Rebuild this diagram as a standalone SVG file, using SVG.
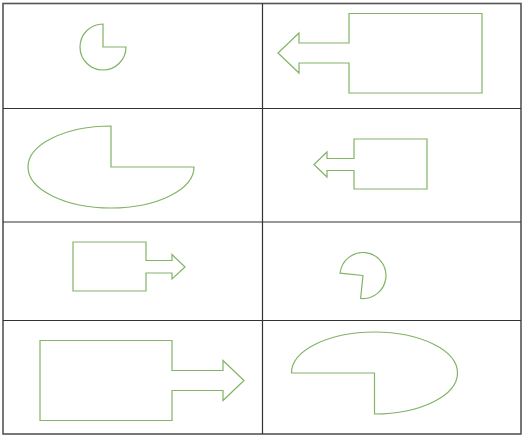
<svg xmlns="http://www.w3.org/2000/svg" width="524" height="437" viewBox="0 0 524 437">
<style>
.shape{fill:#ffffff;stroke:#82b366;stroke-width:1.2;stroke-linejoin:miter}
.grid{fill:none;stroke:#333333;stroke-width:1.2}
.outer{fill:none;stroke:#555555;stroke-width:1.6}
</style>
<rect x="0" y="0" width="524" height="437" fill="#ffffff"/>
<g id="table">
<rect class="outer" x="3" y="3.5" width="518" height="430.5"/>
<line class="grid" x1="262.5" y1="3.5" x2="262.5" y2="434"/>
<line class="grid" x1="3" y1="108.5" x2="521" y2="108.5"/>
<line class="grid" x1="3" y1="222" x2="521" y2="222"/>
<line class="grid" x1="3" y1="320.5" x2="521" y2="320.5"/>
</g>
<g id="pie1"><path class="shape" d="M103,47 L103,24 A23,23 0 1 0 126,47 Z"/></g>
<g id="arrowLeft1"><path class="shape" d="M349,13.5 L482,13.5 L482,93 L349,93 L349,63 L299,63 L299,73 L278,53 L299,33 L299,43 L349,43 Z"/></g>
<g id="ellipsePie1"><path class="shape" d="M111,167 L111,126 A83,41 0 1 0 194,167 Z"/></g>
<g id="arrowLeft2"><path class="shape" d="M354,139 L427,139 L427,189 L354,189 L354,170.5 L327,170.5 L327,177 L314,164.5 L327,152 L327,158.5 L354,158.5 Z"/></g>
<g id="arrowRight1"><path class="shape" d="M73,242 L146,242 L146,260.5 L172,260.5 L172,254.5 L185,267 L172,279 L172,273 L146,273 L146,291 L73,291 Z"/></g>
<g id="pie2"><path class="shape" d="M363,275.5 L340.1,273.1 A23,23 0 1 1 360.6,298.4 Z"/></g>
<g id="arrowRight2"><path class="shape" d="M40,340.5 L172,340.5 L172,370.5 L223,370.5 L223,360.5 L244,380.5 L223,400.5 L223,390.5 L172,390.5 L172,420.5 L40,420.5 Z"/></g>
<g id="ellipsePie2"><path class="shape" d="M374.5,373 L291.5,373 A83,41 0 1 1 374.5,414 Z"/></g>
<g id="connectors"></g>
</svg>
